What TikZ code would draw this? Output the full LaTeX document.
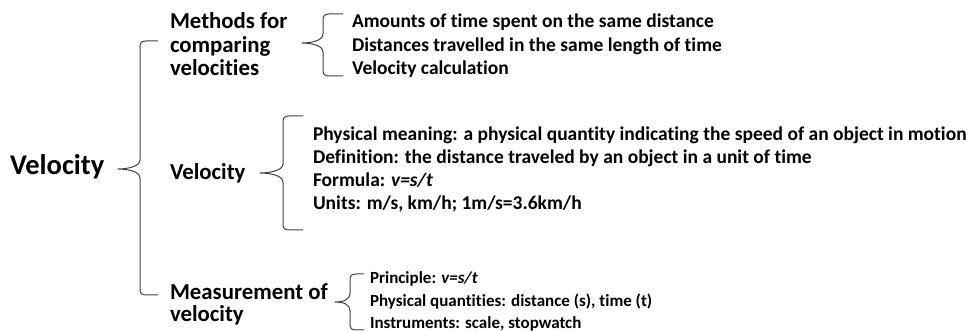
\documentclass[tikz,border=0pt]{standalone}
\usepackage{fontspec}
\setmainfont[Ligatures=NoCommon]{Carlito}
\begin{document}
\begin{tikzpicture}[x=1pt,y=-1pt,
  txt/.style={inner sep=0pt, outer sep=0pt, anchor=base west, text=black},
  rootf/.style={txt, font=\bfseries\fontsize{28.5}{32}\selectfont},
  midf/.style={txt, font=\bfseries\fontsize{22.8}{26}\selectfont},
  leaff/.style={txt, font=\bfseries\fontsize{19.5}{22}\selectfont},
  smallf/.style={txt, font=\bfseries\fontsize{17}{19}\selectfont},
  bracel/.style={draw=black!75, line width=1pt, line join=round}]
\useasboundingbox (0,0) rectangle (970,331);
% brace: #1 xv, #2 ytop, #3 xend, #4 xcusp, #5 ycusp, #6 ybot
\newcommand{\mybrace}[6]{%
  \draw[bracel] (#3,#2) -- (#1+6,#2) .. controls (#1+1,#2) and (#1,#2+2) .. (#1,#2+7)
    -- (#1,#5-9) .. controls (#1,#5-2) and (#4+8,#5) .. (#4,#5)
    .. controls (#4+8,#5) and (#1,#5+2) .. (#1,#5+9)
    -- (#1,#6-7) .. controls (#1,#6-2) and (#1+1,#6) .. (#1+6,#6) -- (#3,#6);}
\node[rootf] (root) at (10,175) {Velocity};

\node[midf] (m1) at (170,29) {Methods for};
\node[midf] (m2) at (170,53) {comparing};
\node[midf] (m3) at (170,76) {velocities};
\node[midf] (v1) at (170,180) {Velocity};
\node[midf] (s1) at (170,300) {Measurement of};
\node[midf] (s2) at (170,322) {velocity};

\node[leaff] (a1) at (352,28) {Amounts of time spent on the same distance};
\node[leaff] (a2) at (352,52) {Distances travelled in the same length of time};
\node[leaff] (a3) at (352,75) {Velocity calculation};

\node[leaff] (b1) at (313,141) {Physical meaning: a physical quantity indicating the speed of an object in motion};
\node[leaff] (b2) at (313,164) {Definition: the distance traveled by an object in a unit of time};
\node[leaff] (b3) at (313,187) {Formula: \textit{v=s/t}};
\node[leaff] (b4) at (313,210) {Units: m/s, km/h; 1m/s=3.6km/h};

\node[smallf] (c1) at (370,284) {Principle: \textit{v=s/t}};
\node[smallf] (c2) at (370,307) {Physical quantities: distance (s), time (t)};
\node[smallf] (c3) at (370,328) {Instruments: scale, stopwatch};

\mybrace{140}{41}{158}{118}{169}{295}
\mybrace{323}{14}{343}{302}{43}{76}
\mybrace{283}{116}{303}{260}{173}{230}
\mybrace{350}{274}{364}{335}{302}{330}
\end{tikzpicture}
\end{document}
